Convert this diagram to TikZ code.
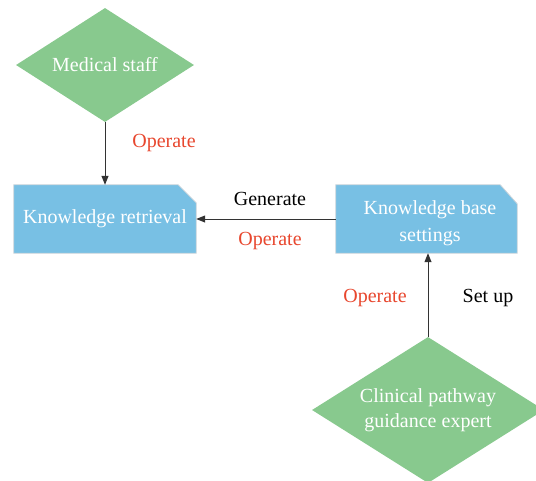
\documentclass[tikz,border=0pt]{standalone}
\usepackage{fontspec}
\setmainfont{Liberation Serif}
\usetikzlibrary{shapes.geometric,arrows.meta}
\definecolor{dgreen}{HTML}{88C98E}
\definecolor{kblue}{HTML}{78C0E4}
\definecolor{kred}{HTML}{E8472E}
\definecolor{kedge}{HTML}{C9D3DA}
\definecolor{kline}{HTML}{333333}
\tikzset{
  role/.style={diamond, fill=dgreen, inner sep=0pt, text=white, align=center,
    font=\fontsize{20}{25}\selectfont},
  boxbase/.style={rectangle, inner sep=0pt, minimum width=182pt, minimum height=68pt},
  boxtext/.style={text=white, align=center, font=\fontsize{20}{27}\selectfont},
  lbl/.style={font=\fontsize{20}{24}\selectfont, text=black},
  redlbl/.style={lbl, text=kred},
  arr/.style={draw=kline, line width=1pt, -{Triangle[length=9pt,width=7pt]}}
}
\begin{document}
\begin{tikzpicture}[x=1pt,y=-1pt]
\clip (0,0) rectangle (536,480);
\fill[white] (0,0) rectangle (536,480);
% Medical staff
\node[role, shape aspect=1.56, minimum width=178pt, minimum height=114pt] (ms) at (105,65) {Medical staff};
% Knowledge retrieval box
\node[boxbase] (kr) at (105,219) {};
\filldraw[fill=kblue, draw=kedge, line width=0.8pt]
  (kr.south west) -- (kr.north west) -- ([xshift=-18pt]kr.north east)
  -- ([yshift=-18pt]kr.north east) -- (kr.south east) -- cycle;
\node[boxtext] (krt) at (105,219) {Knowledge retrieval};
% Knowledge base settings box
\node[boxbase, minimum width=181pt] (kb) at (426.5,219) {};
\filldraw[fill=kblue, draw=kedge, line width=0.8pt]
  (kb.south west) -- (kb.north west) -- ([xshift=-17pt]kb.north east)
  -- ([yshift=-19pt]kb.north east) -- (kb.south east) -- cycle;
\node[boxtext] (kbt) at (430,223) {Knowledge base\\settings};
% Clinical pathway guidance expert
\node[role, shape aspect=1.59, minimum width=232pt, minimum height=146pt] (ce) at (428,410) {Clinical pathway\\guidance expert};
% connectors
\draw[arr] (ms.south) -- (kr.north);
\draw[arr] (kb.west) -- (kr.east);
\draw[arr] (ce.north) -- (ce.north |- kb.south);
% labels
\node[redlbl] (l1) at (164,143) {Operate};
\node[lbl] (l2) at (270,199) {Generate};
\node[redlbl] (l3) at (270,241) {Operate};
\node[redlbl] (l4) at (375,298) {Operate};
\node[lbl] (l5) at (488,298) {Set up};
\end{tikzpicture}
\end{document}
